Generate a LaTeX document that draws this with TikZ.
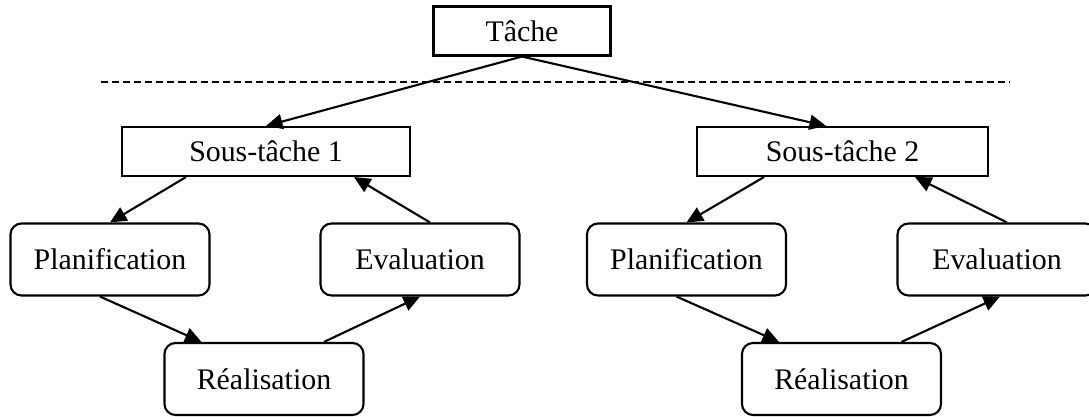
\documentclass[tikz,border=0pt]{standalone}
\usepackage{fontspec}
\setmainfont{Liberation Serif}
\usepackage{tikz}
\usetikzlibrary{arrows.meta}

\begin{document}
\begin{tikzpicture}[
  font=\fontsize{17}{20}\selectfont,
  taskbox/.style={draw,line width=1.2pt,minimum height=0.98cm,inner sep=0pt},
  stepbox/.style={draw,line width=1.2pt,rounded corners=0.22cm,minimum width=3.98cm,minimum height=1.44cm,inner sep=0pt},
  link/.style={line width=1.2pt,-{Triangle[length=0.33cm,width=0.3cm]}}]
\useasboundingbox (0,0) rectangle (21.78,8.34);
\node[taskbox,minimum width=3.54cm] (tache) at (10.44,7.72) {Tâche};
\draw[line width=1.2pt,dash pattern=on 4pt off 2.3pt] (2.02,6.70) -- (20.2,6.70);
\node[taskbox,minimum width=5.76cm] (st1) at (5.32,5.31) {Sous-tâche 1};
\node[taskbox,minimum width=5.82cm] (st2) at (16.85,5.31) {Sous-tâche 2};
\node[stepbox] (plan1) at (2.2,3.15) {Planification};
\node[stepbox] (eval1) at (8.4,3.15) {Evaluation};
\node[stepbox] (real1) at (5.28,0.76) {Réalisation};
\node[stepbox] (plan2) at (13.73,3.15) {Planification};
\node[stepbox] (eval2) at (19.94,3.15) {Evaluation};
\node[stepbox] (real2) at (16.83,0.76) {Réalisation};
\draw[link] (tache.south) -- (st1.north);
\draw[link] (tache.south) -- ([xshift=-0.33cm]st2.north);
\draw[link] ([xshift=-1.6cm]st1.south) -- (plan1.north);
\draw[link] ([xshift=0.2cm]eval1.north) -- ([xshift=1.76cm]st1.south);
\draw[link] ([xshift=-0.2cm]plan1.south) -- ([xshift=-1.25cm]real1.north);
\draw[link] ([xshift=1.2cm]real1.north) -- (eval1.south);
\draw[link] ([xshift=-1.57cm]st2.south) -- (plan2.north);
\draw[link] ([xshift=0.2cm]eval2.north) -- ([xshift=1.45cm]st2.south);
\draw[link] ([xshift=-0.2cm]plan2.south) -- ([xshift=-1.25cm]real2.north);
\draw[link] ([xshift=1.2cm]real2.north) -- ([xshift=0.06cm]eval2.south);
\end{tikzpicture}
\end{document}
